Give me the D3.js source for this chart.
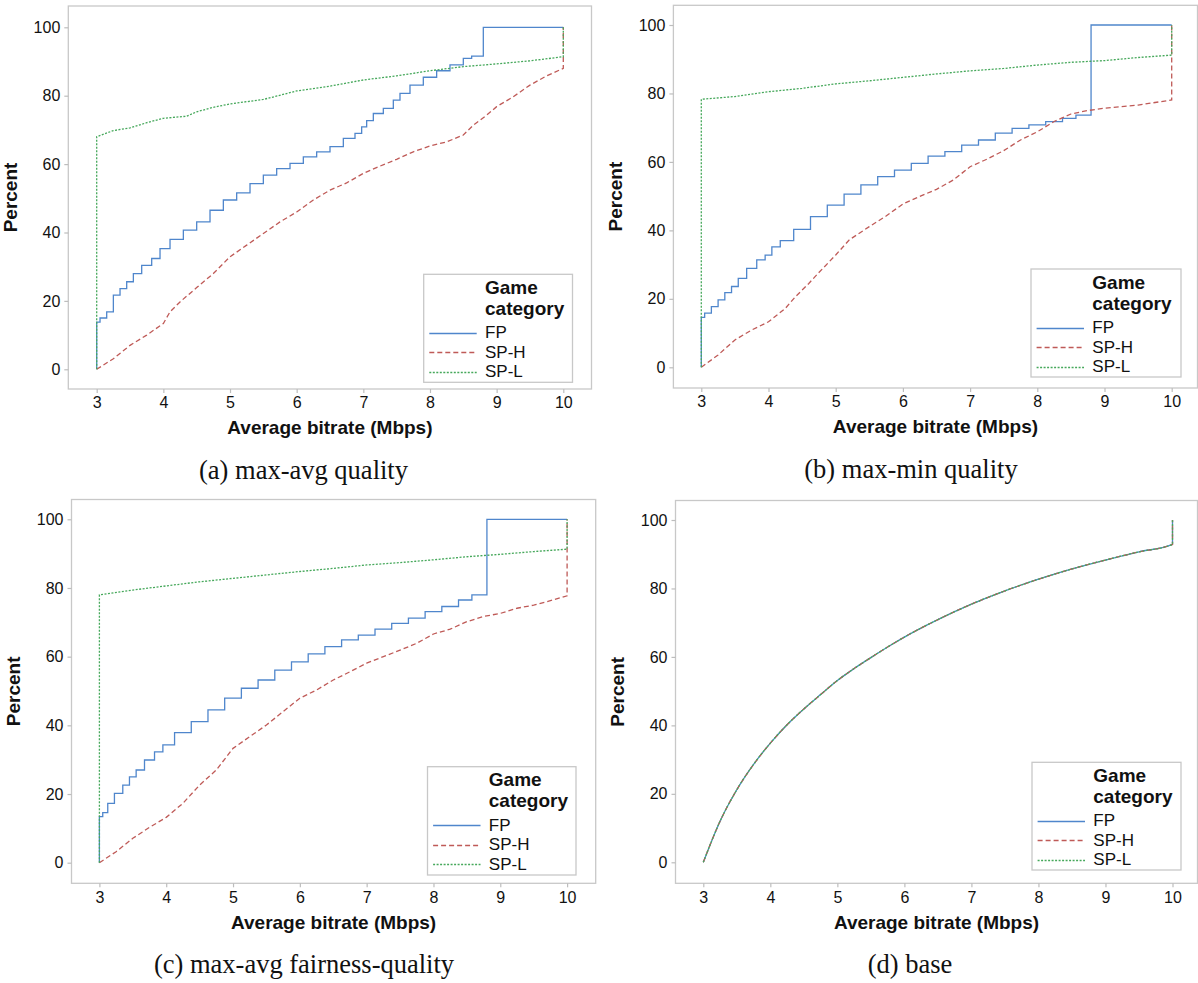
<!DOCTYPE html>
<html><head><meta charset="utf-8">
<script src="https://cdn.jsdelivr.net/npm/d3@7"></script>
<style>body{margin:0;background:#fff} svg{display:block}</style>
</head><body>
<svg id="c" width="1198" height="983"></svg>
<script>
// ---------- data ----------
const seriesNames = ["FP", "SP-H", "SP-L"];
const xTicks = [3, 4, 5, 6, 7, 8, 9, 10];
const yTicks = [0, 20, 40, 60, 80, 100];
const captions = ["(a) max-avg quality", "(b) max-min quality", "(c) max-avg fairness-quality", "(d) base"];
const legendTitle = ["Game", "category"];
const xTitle = "Average bitrate (Mbps)";
const yTitle = "Percent";

// (a) max-avg quality
const aFP = [[3,0],[3,13.8],[3.1,15],[3.2,16.8],[3.3,21.7],[3.4,23.6],[3.5,25.6],[3.6,28],[3.75,30.4],[3.9,32.4],[4,35.3],[4.2,38],[4.4,40.7],[4.6,43.1],[4.8,46.5],[5,49.5],[5.2,51.6],[5.4,54.3],[5.6,56.8],[5.8,58.7],[6,60.2],[6.2,62.1],[6.4,63.6],[6.6,65.1],[6.8,67.5],[6.95,69],[7,70.9],[7.1,72.7],[7.2,74.8],[7.4,76.3],[7.5,78.7],[7.6,80.7],[7.8,83.1],[8,85.4],[8.2,87.3],[8.4,89],[8.6,90.9],[8.65,91.6],[8.8,91.6],[8.8,100],[10,100]];
const aSPH = [[3,0],[3.25,3.1],[3.5,7],[3.75,10],[4,13.4],[4.1,16.8],[4.25,19.7],[4.5,23.9],[4.75,28],[5,32.9],[5.25,36.3],[5.5,39.7],[5.75,43.1],[6,46],[6.25,49.5],[6.5,52.4],[6.75,54.5],[7,57.3],[7.25,59.4],[7.5,61.4],[7.75,63.6],[8,65.3],[8.25,66.5],[8.5,68.5],[8.65,71.4],[8.85,74.3],[9,76.8],[9.25,79.7],[9.5,83.1],[9.75,85.8],[10,88],[10,100]];
const aSPL = [[3,0],[3,68],[3.25,69.8],[3.5,70.6],[3.75,72.1],[4,73.4],[4.35,74],[4.5,75.3],[4.75,76.6],[5,77.6],[5.5,78.9],[6,81.4],[6.5,82.8],[7,84.6],[7.5,85.8],[8,87.3],[8.5,88.5],[9,89.3],[9.5,90.2],[10,91.4],[10,100]];

// (b) max-min quality
const bFP = [[3,0],[3,14.6],[3.1,15.8],[3.2,17.7],[3.3,19.7],[3.4,21.8],[3.5,23.6],[3.6,26],[3.75,28.9],[3.9,31.4],[4,32.8],[4.1,35.2],[4.25,37],[4.5,40.3],[4.75,44],[5,47.4],[5.25,50.6],[5.5,53.3],[5.75,55.7],[6,57.6],[6.25,59.6],[6.5,61.7],[6.75,63],[7,64.9],[7.25,66.4],[7.5,68.4],[7.75,69.8],[8,70.8],[8.25,71.8],[8.5,72.7],[8.65,73.7],[8.8,73.7],[8.8,100],[10,100]];
const bSPH = [[3,0],[3.25,3.6],[3.5,8],[3.75,10.9],[4,13.3],[4.25,17.2],[4.4,20.6],[4.6,24.5],[4.75,27.7],[5,32.8],[5.2,37.2],[5.5,41.1],[5.75,44.2],[6,47.7],[6.25,49.9],[6.5,52],[6.75,54.7],[7,58.6],[7.25,60.8],[7.5,63.3],[7.75,66.4],[8,68.8],[8.25,71.8],[8.5,74],[8.75,75],[9,75.7],[9.5,76.6],[10,78.1],[10,100]];
const bSPL = [[3,0],[3,78.3],[3.5,79.1],[4,80.5],[4.5,81.5],[5,82.8],[5.5,83.7],[6,84.7],[6.5,85.7],[7,86.6],[7.5,87.3],[8,88.3],[8.5,89.1],[9,89.6],[9.5,90.5],[10,91.2],[10,100]];

// (c) max-avg fairness-quality
const cFP = [[3,0],[3,13.4],[3.1,14.6],[3.15,17.3],[3.3,20.2],[3.4,22.6],[3.5,25],[3.6,27],[3.75,29.9],[3.9,32.3],[4,34.3],[4.25,37.9],[4.5,41.1],[4.75,44.5],[5,47.9],[5.25,50.8],[5.5,53.2],[5.75,56.1],[6,58.5],[6.25,60.8],[6.5,62.9],[6.75,64.9],[7,66.3],[7.25,68],[7.5,69.7],[7.75,71.2],[8,73.1],[8.25,74.6],[8.5,76.5],[8.65,78],[8.8,78],[8.8,100],[10,100]];
const cSPH = [[3,0],[3.25,3.2],[3.5,7.1],[3.75,10.3],[4,13.2],[4.25,17.3],[4.5,22.6],[4.75,27],[5,33.3],[5.25,36.7],[5.5,40.1],[5.75,44],[6,47.9],[6.25,50.3],[6.5,53.2],[6.75,55.6],[7,58.1],[7.25,60],[7.5,61.9],[7.75,63.9],[8,66.6],[8.25,68],[8.5,70.2],[8.75,71.7],[9,72.6],[9.25,74.1],[9.5,75],[9.75,76.3],[10,77.7],[10,100]];
const cSPL = [[3,0],[3,78],[3.5,79.4],[4,80.6],[4.5,81.8],[5,82.8],[5.5,83.8],[6,84.8],[6.5,85.7],[7,86.7],[7.5,87.4],[8,88.2],[8.5,89.1],[9,89.8],[9.5,90.6],[10,91.3],[10,100]];

// (d) base (all three categories coincide)
const dFP = [[3,0],[3.25,12],[3.5,21.2],[3.75,28.6],[4,34.8],[4.25,40.2],[4.5,44.8],[4.75,49],[5,53.1],[5.25,56.6],[5.5,59.8],[5.75,62.9],[6,65.8],[6.5,70.9],[7,75.4],[7.5,79.3],[8,82.7],[8.5,85.7],[9,88.3],[9.5,90.7],[10,92.9],[10,100]];
const dSPH = dFP;
const dSPL = dFP;

// ---------- styling / layout ----------
const colors = ["#4f86cc", "#bf5a57", "#46a85b"];
const dashes = [null, "5,3", "2,1.5"];
const curves = [d3.curveStep, d3.curveLinear, d3.curveLinear];

const panels = [
  {fr:[68.3,6,591.5,389],     xr:[96.7,563.3],   yr:[369.3,27.3], leg:[423.7,274.3,148.8,108], cap:[303.5,479], ytx:10.7,  data:[aFP,aSPH,aSPL]},
  {fr:[673.4,5.3,1197.5,388], xr:[701.3,1171.7], yr:[367.3,25],   leg:[1031,269,150,108],      cap:[911,478],   ytx:615.3, data:[bFP,bSPH,bSPL]},
  {fr:[71.5,499.5,595.7,883.3],xr:[99.4,567.1],  yr:[862.7,519.3],leg:[427.5,766.7,148.5,108.3],cap:[304,973],  ytx:13.4,  data:[cFP,cSPH,cSPL]},
  {fr:[675.5,500.5,1197.5,883.3],xr:[703.3,1172.5],yr:[862.3,520],leg:[1032,762.3,149,107.7],  cap:[910,973],   ytx:617.2, data:[dFP,dSPH,dSPL], smooth:true}
];

const svg = d3.select("#c");
const sans = "'Liberation Sans', Arial, sans-serif";
const serif = "'Liberation Serif', 'Times New Roman', serif";
const frameColor = "#c8c8c8";

panels.forEach((p, pi) => {
  const [fl, ft, fr, fb] = p.fr;
  const x = d3.scaleLinear().domain([3, 10]).range(p.xr);
  const y = d3.scaleLinear().domain([0, 100]).range(p.yr);
  const g = svg.append("g");

  // frame
  g.append("rect").attr("x", fl).attr("y", ft).attr("width", fr - fl).attr("height", fb - ft)
    .attr("fill", "none").attr("stroke", frameColor).attr("stroke-width", 1.3);

  // axes
  const xa = g.append("g").attr("transform", `translate(0,${fb})`)
    .call(d3.axisBottom(x).tickValues(xTicks).tickSize(4).tickPadding(4).tickFormat(d3.format("d")));
  const ya = g.append("g").attr("transform", `translate(${fl},0)`)
    .call(d3.axisLeft(y).tickValues(yTicks).tickSize(4).tickPadding(4).tickFormat(d3.format("d")));
  [xa, ya].forEach(a => {
    a.select(".domain").remove();
    a.selectAll(".tick line").attr("stroke", "#bdbdbd").attr("stroke-width", 1.2);
    a.selectAll(".tick text").attr("fill", "#111").style("font-family", sans).style("font-size", "16px");
  });

  // axis titles
  g.append("text").attr("x", (fl + fr) / 2).attr("y", fb + 38.7).attr("dy", "0.35em")
    .attr("text-anchor", "middle").style("font-family", sans).style("font-weight", "bold")
    .style("font-size", "19px").attr("fill", "#111").text(xTitle);
  g.append("text").attr("transform", `translate(${p.ytx},${(ft + fb) / 2}) rotate(-90)`)
    .attr("dy", "0.35em").attr("text-anchor", "middle").style("font-family", sans)
    .style("font-weight", "bold").style("font-size", "19px").attr("fill", "#111").text(yTitle);

  // lines
  p.data.forEach((d, si) => {
    const curve = p.smooth ? d3.curveMonotoneX : curves[si];
    const line = d3.line().x(v => x(v[0])).y(v => y(v[1])).curve(curve);
    g.append("path").attr("d", line(d)).attr("fill", "none")
      .attr("stroke", colors[si]).attr("stroke-width", 1.3)
      .attr("stroke-dasharray", dashes[si]);
  });

  // legend
  const [L, T, W, H] = p.leg;
  const lg = g.append("g");
  lg.append("rect").attr("x", L).attr("y", T).attr("width", W).attr("height", H)
    .attr("fill", "#fff").attr("stroke", frameColor).attr("stroke-width", 1.3);
  legendTitle.forEach((t, i) => {
    lg.append("text").attr("x", L + 61.3).attr("y", T + 19.5 + i * 21.2)
      .style("font-family", sans).style("font-weight", "bold").style("font-size", "19px")
      .attr("fill", "#111").text(t);
  });
  seriesNames.forEach((s, i) => {
    const by = T + 64 + i * 19.5;
    const ly = Math.round(by - 5.5) + 0.5;
    lg.append("line").attr("x1", L + 5.6).attr("x2", L + 53).attr("y1", ly).attr("y2", ly)
      .attr("stroke", colors[i]).attr("stroke-width", 1.4).attr("stroke-dasharray", dashes[i]);
    lg.append("text").attr("x", L + 61.3).attr("y", by).style("font-family", sans)
      .style("font-size", "17px").attr("fill", "#111").text(s);
  });

  // caption
  svg.append("text").attr("x", p.cap[0]).attr("y", p.cap[1]).attr("text-anchor", "middle")
    .style("font-family", serif).style("font-size", "26.5px").attr("fill", "#111").text(captions[pi]);
});
</script>
</body></html>
